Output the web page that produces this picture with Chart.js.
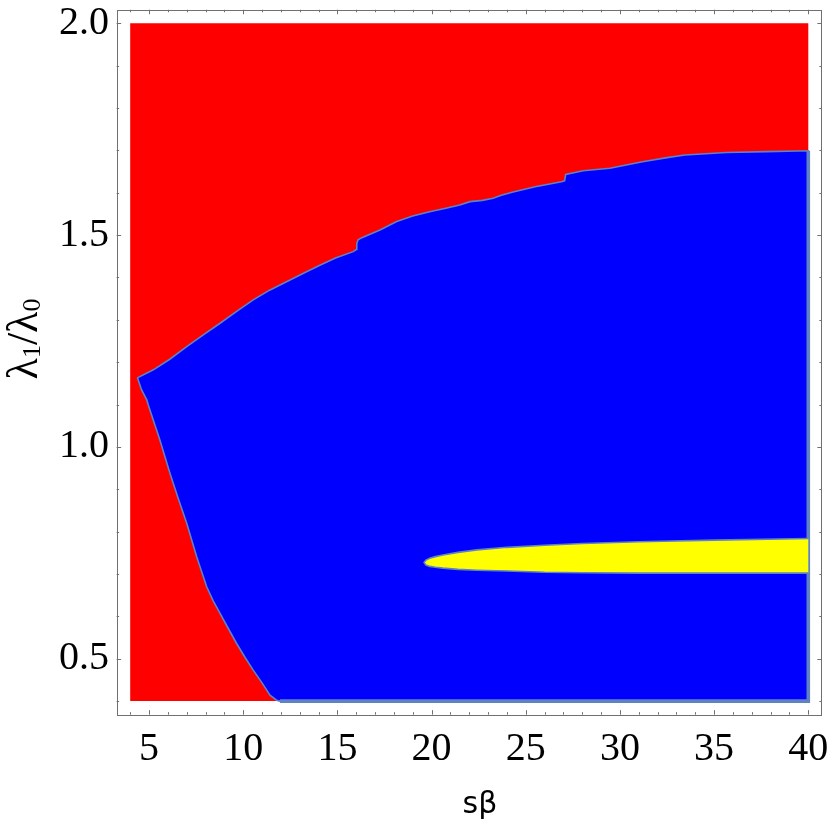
<!DOCTYPE html>
<html>
<head>
<meta charset="utf-8">
<script src="https://cdn.jsdelivr.net/npm/chart.js@4.4.1/dist/chart.umd.min.js"></script>
<style>
  html, body { margin: 0; padding: 0; background: #fff; }
  #wrap { width: 830px; height: 829px; }
</style>
</head>
<body>
<div id="wrap"><canvas id="c" width="830" height="829"></canvas></div>
<script>
// sampled region of the plot
const xRange = [4, 40];
const yRange = [0.4, 2.0];

const xTicks = [5, 10, 15, 20, 25, 30, 35, 40];
const yTicks = [0.5, 1.0, 1.5, 2.0];

// upper red/blue boundary, left corner -> right edge
const upperX = [4.38, 5.23, 6.1, 7.0, 7.9, 8.77, 9.65, 10.53, 11.4, 12.3, 13.2, 14.07, 14.9, 15.84, 16.0, 16.03, 16.1, 16.3, 17.26, 18.15, 19.0, 19.9, 20.7, 21.5, 22.04, 22.7, 23.27, 23.7, 24.33, 25.5, 26.9, 27.06, 27.12, 28.05, 29.47, 31.2, 32.5, 33.45, 35.66, 37.8, 40];
const upperY = [1.163, 1.182, 1.207, 1.237, 1.265, 1.292, 1.320, 1.347, 1.370, 1.390, 1.410, 1.429, 1.446, 1.461, 1.466, 1.480, 1.489, 1.494, 1.512, 1.532, 1.545, 1.555, 1.563, 1.571, 1.579, 1.582, 1.587, 1.594, 1.602, 1.614, 1.626, 1.628, 1.643, 1.652, 1.658, 1.673, 1.683, 1.689, 1.695, 1.697, 1.699];

// lower-left boundary, corner -> bottom edge
const leftX = [4.38, 4.6, 4.88, 4.96, 5.25, 5.58, 6.11, 6.55, 7.0, 7.3, 7.53, 8.06, 8.4, 8.77, 9.2, 9.65, 10.1, 10.53, 11.0, 11.42, 11.77, 11.95];
const leftY = [1.164, 1.135, 1.111, 1.099, 1.06, 1.016, 0.938, 0.878, 0.820, 0.775, 0.741, 0.670, 0.637, 0.607, 0.572, 0.536, 0.503, 0.473, 0.443, 0.414, 0.402, 0.4];

// yellow island
const yellowX = [19.6, 19.7, 19.9, 20.2, 20.6, 21.4, 22.4, 24, 26, 28, 31, 35, 40];
const yellowTop = [0.727, 0.733, 0.737, 0.741, 0.745, 0.751, 0.757, 0.763, 0.768, 0.772, 0.776, 0.780, 0.784];
const yellowBottom = [0.727, 0.721, 0.718, 0.716, 0.714, 0.711, 0.709, 0.707, 0.704, 0.703, 0.702, 0.702, 0.702];

const edgeColor = '#5f82c2';
const pad = 0.02; // mathematica style plot range padding

const pts = (xs, ys) => xs.map((x, i) => ({x: x, y: ys[i]}));

const redShape = pts([xRange[0], xRange[0], xRange[1], xRange[1]], [yRange[0], yRange[1], yRange[1], yRange[0]]);
const blueShape = pts(upperX, upperY)
  .concat([{x: xRange[1], y: yRange[0]}])
  .concat(pts(leftX, leftY).reverse());
const blueEdge = [{x: xRange[1], y: upperY[upperY.length - 1]}, {x: xRange[1], y: yRange[0]}, {x: leftX[leftX.length - 1], y: yRange[0]}];
const yellowShape = pts(yellowX, yellowTop).reverse().concat(pts(yellowX, yellowBottom).slice(1));

const xSpan = xRange[1] - xRange[0];
const ySpan = yRange[1] - yRange[0];

const frame = {
  id: 'frame',
  afterDraw(chart) {
    const {ctx, chartArea: a, scales: {x, y}} = chart;
    ctx.save();
    ctx.strokeStyle = '#707070';
    ctx.lineWidth = 1;
    ctx.strokeRect(Math.round(a.left) + 0.5, Math.round(a.top) + 0.5,
      Math.round(a.right) - Math.round(a.left) - 1, Math.round(a.bottom) - Math.round(a.top));
    ctx.beginPath();
    for (let v = xRange[0]; v <= xRange[1] + 1e-9; v += 1) {
      const px = Math.round(x.getPixelForValue(v)) + 0.5;
      const len = v % 5 === 0 ? 4.5 : 2.5;
      ctx.moveTo(px, a.bottom); ctx.lineTo(px, a.bottom - len);
      ctx.moveTo(px, a.top); ctx.lineTo(px, a.top + len);
    }
    for (let k = 0; k <= 16; k++) {
      const v = yRange[0] + k * 0.1;
      const py = Math.round(y.getPixelForValue(v)) + 0.5;
      const len = (k + 4) % 5 === 0 ? 4.5 : 2.5;
      ctx.moveTo(a.left, py); ctx.lineTo(a.left + len, py);
      ctx.moveTo(a.right, py); ctx.lineTo(a.right - len, py);
    }
    ctx.stroke();

    // axis titles
    ctx.fillStyle = '#000';
    ctx.font = '30px "DejaVu Sans"';
    ctx.textAlign = 'center';
    ctx.textBaseline = 'alphabetic';
    ctx.fillText('s\u03b2', 480, 813);

    const parts = [['\u03bb', 44, 0], ['1', 26, 3], ['/', 44, 0], ['\u03bb', 44, 0], ['0', 26, 3]];
    let total = 0;
    parts.forEach(p => { ctx.font = p[1] + 'px "Liberation Serif"'; p.push(ctx.measureText(p[0]).width); total += p[3]; });
    ctx.translate(37, 339);
    ctx.rotate(-Math.PI / 2);
    ctx.textAlign = 'left';
    let cx = -total / 2;
    parts.forEach(p => {
      ctx.font = p[1] + 'px "Liberation Serif"';
      ctx.fillText(p[0], cx, p[2]);
      cx += p[3];
    });
    ctx.restore();
  }
};

new Chart(document.getElementById('c'), {
  type: 'line',
  data: {
    datasets: [
      { data: yellowShape, order: 1, fill: 'shape', backgroundColor: '#ffff00', borderColor: edgeColor, borderWidth: 1.6 },
      { data: blueEdge, order: 2, fill: false, borderColor: edgeColor, borderWidth: 3.6 },
      { data: blueShape, order: 3, fill: 'shape', backgroundColor: '#0000ff', borderColor: edgeColor, borderWidth: 1.6 },
      { data: redShape, order: 4, fill: 'shape', backgroundColor: '#ff0000', borderWidth: 0 }
    ]
  },
  options: {
    responsive: false,
    animation: false,
    events: [],
    layout: { padding: { top: 9.74, right: 8.14, left: 0, bottom: 0 } },
    elements: { point: { radius: 0 }, line: { tension: 0 } },
    plugins: { legend: { display: false }, tooltip: { enabled: false } },
    scales: {
      x: {
        type: 'linear',
        min: xRange[0] - pad * xSpan,
        max: xRange[1] + pad * xSpan,
        grid: { display: false, drawTicks: false },
        border: { display: false },
        afterBuildTicks: s => { s.ticks = xTicks.map(v => ({value: v})); },
        afterFit: s => { s.height = 114.34; s.paddingLeft = 0; s.paddingRight = 0; },
        ticks: {
          autoSkip: false, maxRotation: 0, padding: 15,
          color: '#000',
          font: { family: '"Liberation Serif"', size: 40, lineHeight: 1 },
          callback: v => String(v)
        }
      },
      y: {
        type: 'linear',
        min: yRange[0] - pad * ySpan,
        max: yRange[1] + pad * ySpan,
        grid: { display: false, drawTicks: false },
        border: { display: false },
        afterBuildTicks: s => { s.ticks = yTicks.map(v => ({value: v})); },
        afterFit: s => { s.width = 116.64; s.paddingTop = 0; s.paddingBottom = 0; },
        ticks: {
          autoSkip: false, padding: 7.6,
          color: '#000',
          font: { family: '"Liberation Serif"', size: 40, lineHeight: 1 },
          callback: v => v.toFixed(1)
        }
      }
    }
  },
  plugins: [frame]
});
</script>
</body>
</html>
